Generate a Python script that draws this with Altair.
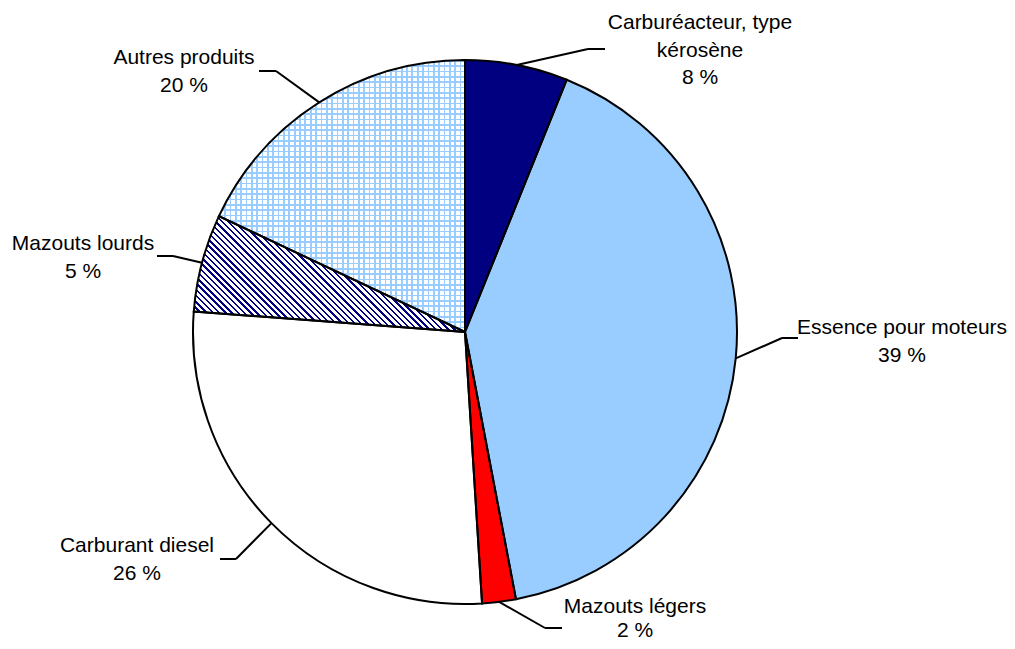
import math
import altair as alt
import pandas as pd

# ---------------- data ----------------
categories = ["Carburéacteur, type kérosène", "Essence pour moteurs", "Mazouts légers",
              "Carburant diesel", "Mazouts lourds", "Autres produits"]
values = [6.1, 40.9, 2.0, 27.2, 5.8, 18.0]          # slice shares
label_text = ["Carburéacteur, type\nkérosène\n8 %", "Essence pour moteurs\n39 %",
              "Mazouts légers\n2 %", "Carburant diesel\n26 %",
              "Mazouts lourds\n5 %", "Autres produits\n20 %"]
fills = ["#000080", "#99ccff", "#ff0000", "#ffffff", "#ffffff", "#ffffff"]

# ---------------- layout ----------------
CX, CY, R = 457, 324, 272
W, H = 999, 633
# leader elbow and end points, label anchor (centre x, first baseline y, line height)
elbow = [(580, 41), (774, 330), (537, 620), (228, 551), (165, 248), (268, 63)]
lend = [(597, 41), (790, 330), (554, 620), (212, 551), (149, 248), (251, 63)]
label_pos = [(692, 21), (894, 326), (627, 605), (129, 544), (75, 242), (176, 56)]
label_lh = [27.5, 27.5, 24, 27.5, 27.5, 27.5]

# cumulative angles
t0, t1, acc = [], [], 0.0
for v in values:
    t0.append(acc)
    acc += v
    t1.append(acc)

pie = pd.DataFrame({"cat": categories, "t0": t0, "t1": t1})

seg = []
for i in range(len(categories)):
    a = (t0[i] + t1[i]) / 2 / 100 * 2 * math.pi
    sx, sy = CX + R * math.sin(a), CY - R * math.cos(a)
    seg.append({"x": sx, "y": sy, "x2": elbow[i][0], "y2": elbow[i][1]})
    seg.append({"x": elbow[i][0], "y": elbow[i][1], "x2": lend[i][0], "y2": lend[i][1]})
segs = pd.DataFrame(seg)

labels = pd.DataFrame({"txt": label_text,
                       "lx": [p[0] for p in label_pos],
                       "ly": [p[1] for p in label_pos],
                       "lh": label_lh})


def bbox(i):
    a0 = t0[i] / 100 * 2 * math.pi
    a1 = t1[i] / 100 * 2 * math.pi
    pts = [(CX, CY)]
    n = 200
    for k in range(n + 1):
        a = a0 + (a1 - a0) * k / n
        pts.append((CX + R * math.sin(a), CY - R * math.cos(a)))
    xs = [p[0] for p in pts]
    ys = [p[1] for p in pts]
    return min(xs), min(ys), max(xs) - min(xs), max(ys) - min(ys)


def stripes(n, frac, color, bg, x1, y1, x2, y2):
    stops = []
    for k in range(n):
        a, b, c = k / n, (k + frac) / n, (k + 1) / n
        stops += [{"offset": a, "color": color}, {"offset": b, "color": color},
                  {"offset": b, "color": bg}, {"offset": c, "color": bg}]
    return {"gradient": "linear", "x1": x1, "y1": y1, "x2": x2, "y2": y2, "stops": stops}


# hatch for "Mazouts lourds" (diagonal lines going down-right)
_, _, w4, h4 = bbox(4)
nrm = math.hypot(w4, h4)
L = (w4 + h4) / nrm
hx2, hy2 = L * w4 / nrm, 1 - L * h4 / nrm
span = (w4 + h4) / math.sqrt(2)
hatch = stripes(int(round(span / 4.4)), 0.38, "#000080", "#ffffff", 0, 1, hx2, hy2)

# grid for "Autres produits"
_, _, w5, h5 = bbox(5)
vgrid = stripes(int(round(w5 / 5.3)), 0.32, "#99ccff", "#ffffff", 0, 0, 1, 0)
hgrid = stripes(int(round(h5 / 5.3)), 0.32, "#99ccff", "rgba(255,255,255,0)", 0, 0, 0, 1)

theta = alt.Theta("t0:Q", scale=alt.Scale(domain=[0, 100], range=[0, 2 * math.pi]))
theta2 = alt.Theta2("t1:Q")
pos = dict(x=alt.value(CX), y=alt.value(CY))

base = alt.Chart(pie).mark_arc(outerRadius=R, strokeWidth=0).encode(
    theta=theta, theta2=theta2,
    color=alt.Color("cat:N", scale=alt.Scale(domain=categories, range=fills), legend=None),
    **pos)

lourds = alt.Chart(pie).transform_filter(alt.datum.cat == categories[4]).mark_arc(
    outerRadius=R, strokeWidth=0, fill=hatch).encode(theta=theta, theta2=theta2, **pos)

autres_v = alt.Chart(pie).transform_filter(alt.datum.cat == categories[5]).mark_arc(
    outerRadius=R, strokeWidth=0, fill=vgrid).encode(theta=theta, theta2=theta2, **pos)
autres_h = alt.Chart(pie).transform_filter(alt.datum.cat == categories[5]).mark_arc(
    outerRadius=R, strokeWidth=0, fill=hgrid).encode(theta=theta, theta2=theta2, **pos)

outline = alt.Chart(pie).mark_arc(outerRadius=R, fillOpacity=0, fill="#ffffff",
                                   stroke="#000000", strokeWidth=2,
                                   strokeJoin="miter").encode(
    theta=theta, theta2=theta2, **pos)

leaders = alt.Chart(segs).mark_rule(color="#000000", strokeWidth=2).encode(
    x=alt.X("x:Q", scale=None), y=alt.Y("y:Q", scale=None),
    x2="x2:Q", y2="y2:Q")


def text_layer(lh):
    return alt.Chart(labels).transform_filter(alt.datum.lh == lh).mark_text(
        font="Liberation Sans", fontSize=21, lineHeight=lh,
        align="center", baseline="alphabetic",
        lineBreak="\n", color="#000000").encode(
        x=alt.X("lx:Q", scale=None), y=alt.Y("ly:Q", scale=None), text="txt:N")


texts = [text_layer(lh) for lh in sorted(set(label_lh))]

chart = alt.layer(base, lourds, autres_v, autres_h, outline, leaders, *texts).properties(
    width=W, height=H, padding=0,
    autosize=alt.AutoSizeParams(type="none"),
    background="#ffffff",
).configure_view(stroke=None)

chart.save("out.html", embed_options={"renderer": "svg", "actions": False})
